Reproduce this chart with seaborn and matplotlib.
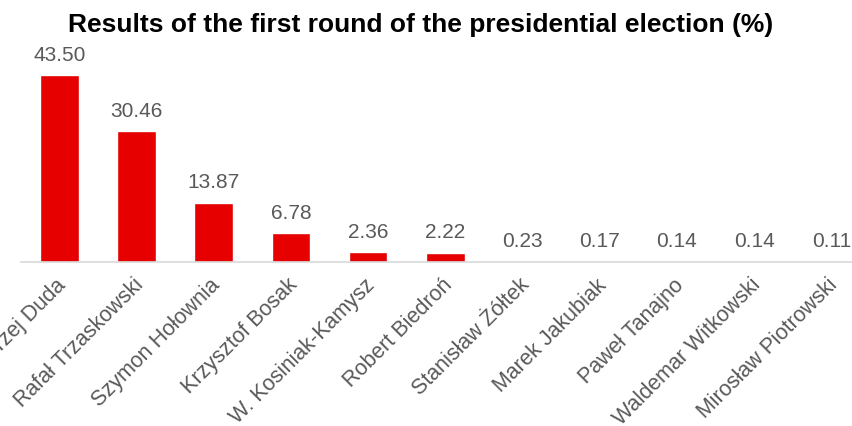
import matplotlib
matplotlib.use('Agg')
import matplotlib.pyplot as plt
import matplotlib.transforms as mtransforms
import seaborn as sns
import pandas as pd

candidates = ['Andrzej Duda', 'Rafał Trzaskowski', 'Szymon Hołownia', 'Krzysztof Bosak',
              'W. Kosiniak-Kamysz', 'Robert Biedroń', 'Stanisław Żółtek', 'Marek Jakubiak',
              'Paweł Tanajno', 'Waldemar Witkowski', 'Mirosław Piotrowski']
results = [43.50, 30.46, 13.87, 6.78, 2.36, 2.22, 0.23, 0.17, 0.14, 0.14, 0.11]

BAR_RED = '#e60000'
TEXT_GREY = '#595959'


def main():
    sns.set_style('white')
    plt.rcParams['font.family'] = ['Liberation Sans', 'DejaVu Sans']

    df = pd.DataFrame({'candidate': candidates, 'result': results})

    fig = plt.figure(figsize=(8.53, 4.26), dpi=100)
    # axes runs a bit past the right edge of the figure, as in the original
    ax = fig.add_axes([0.0243, 0.3843, 0.9956, 0.5054])

    sns.barplot(data=df, x='candidate', y='result', color=BAR_RED,
                saturation=1, width=0.5, ax=ax)

    ax.set_ylim(0, 50)
    ax.set_xlim(-0.5, len(candidates) - 0.5)
    ax.set_xlabel('')
    ax.set_ylabel('')
    ax.set_yticks([])
    for side in ['top', 'right', 'left']:
        ax.spines[side].set_visible(False)
    ax.spines['bottom'].set_color('#d9d9d9')
    ax.spines['bottom'].set_linewidth(1.2)

    ax.bar_label(ax.containers[0], fmt='%.2f', padding=7.5,
                 fontsize=15, color=TEXT_GREY)

    ax.tick_params(axis='x', length=0, pad=9, labelsize=15.5, labelcolor=TEXT_GREY)
    shift = mtransforms.ScaledTranslation(-4 / 100, 0, fig.dpi_scale_trans)
    for lbl in ax.get_xticklabels():
        lbl.set_rotation(45)
        lbl.set_ha('right')
        lbl.set_va('top')
        lbl.set_rotation_mode('anchor')
        lbl.set_transform(lbl.get_transform() + shift)

    fig.text(0.493, 0.924, 'Results of the first round of the presidential election (%)',
             ha='center', va='baseline', fontsize=19, fontweight='bold', color='black')

    fig.savefig('out.png', dpi=100)
    plt.close(fig)


if __name__ == '__main__':
    main()
